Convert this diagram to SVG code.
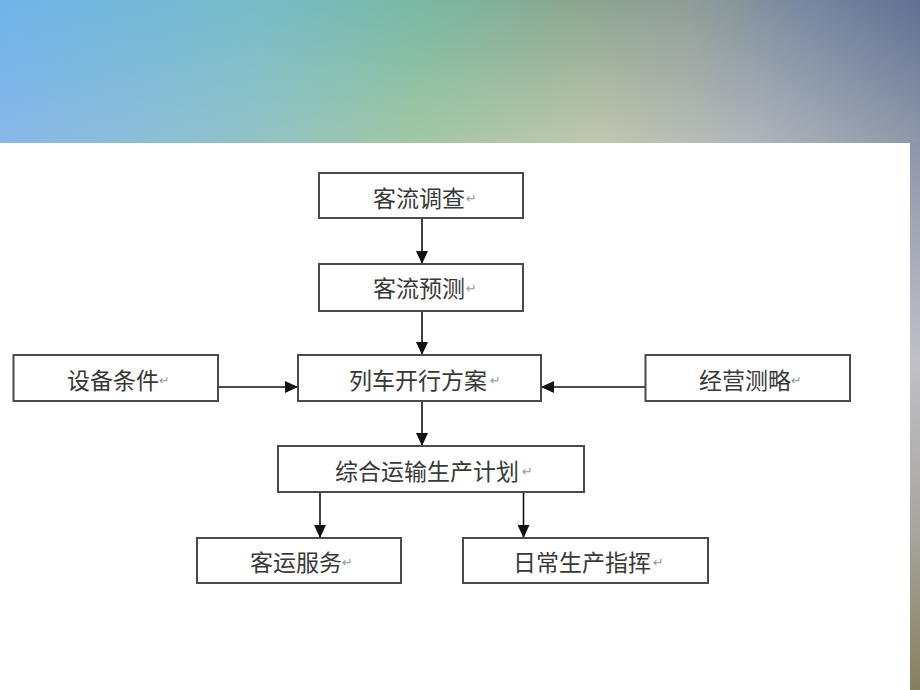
<svg xmlns="http://www.w3.org/2000/svg" width="920" height="690" viewBox="0 0 920 690">
  <defs>
    <linearGradient id="gBottom" x1="0" y1="0" x2="1" y2="0">
      <stop offset="0" stop-color="#88b8ea"/>
      <stop offset="0.25" stop-color="#90c2cc"/>
      <stop offset="0.45" stop-color="#a2c8a4"/>
      <stop offset="0.65" stop-color="#c2c8b0"/>
      <stop offset="0.82" stop-color="#b0b6bc"/>
      <stop offset="1" stop-color="#9098aa"/>
    </linearGradient>
    <linearGradient id="gTop" x1="0" y1="0" x2="1" y2="0">
      <stop offset="0" stop-color="#6fb4ea"/>
      <stop offset="0.28" stop-color="#78bcc8"/>
      <stop offset="0.45" stop-color="#78b8a4"/>
      <stop offset="0.62" stop-color="#8aa690"/>
      <stop offset="0.75" stop-color="#909c98"/>
      <stop offset="0.88" stop-color="#7686a0"/>
      <stop offset="1" stop-color="#607092"/>
    </linearGradient>
    <linearGradient id="fadeV" x1="0" y1="0" x2="0" y2="1">
      <stop offset="0" stop-color="#fff" stop-opacity="1"/>
      <stop offset="1" stop-color="#fff" stop-opacity="0"/>
    </linearGradient>
    <mask id="fadeMask">
      <rect x="0" y="0" width="920" height="143" fill="url(#fadeV)"/>
    </mask>
    <linearGradient id="gSide" x1="0" y1="0" x2="0" y2="1">
      <stop offset="0" stop-color="#8e96aa"/>
      <stop offset="0.4" stop-color="#c0c0c6"/>
      <stop offset="0.7" stop-color="#a8a6a0"/>
      <stop offset="1" stop-color="#85805f"/>
    </linearGradient>
    <marker id="arrow" markerWidth="13" markerHeight="12" refX="13" refY="6" orient="auto" markerUnits="userSpaceOnUse">
      <path d="M0,0 L13,6 L0,12 Z" fill="#111"/>
    </marker>
    <style>
      .box { fill: #ffffff; stroke: #4a4a4a; stroke-width: 2; }
      .lbl { font-family: "Noto Sans CJK SC", "Noto Sans CJK TC", sans-serif; font-size: 23px; fill: #383838; dominant-baseline: central; }
      .ret { font-family: "DejaVu Sans", "Noto Sans CJK SC", sans-serif; font-size: 13px; fill: #999999; }
      .conn { stroke: #111111; stroke-width: 1.6; fill: none; marker-end: url(#arrow); }
    </style>
  </defs>

  <rect x="0" y="0" width="920" height="690" fill="#ffffff"/>
  <rect x="0" y="0" width="920" height="143" fill="url(#gBottom)"/>
  <rect x="0" y="0" width="920" height="143" fill="url(#gTop)" mask="url(#fadeMask)"/>
  <rect x="910" y="142" width="10" height="548" fill="url(#gSide)"/>

  <g id="connectors">
    <line class="conn" x1="422" y1="218" x2="422" y2="264"/>
    <line class="conn" x1="422" y1="311" x2="422" y2="355"/>
    <line class="conn" x1="218" y1="387" x2="298" y2="387"/>
    <line class="conn" x1="645" y1="387" x2="541" y2="387"/>
    <line class="conn" x1="422" y1="401" x2="422" y2="446"/>
    <line class="conn" x1="320" y1="492" x2="320" y2="538"/>
    <line class="conn" x1="523.5" y1="492" x2="523.5" y2="538"/>
  </g>

  <g id="n1">
    <rect class="box" x="319" y="173" width="204" height="45"/>
    <text class="lbl" x="373" y="197">客流调查</text>
    <text class="ret" x="466" y="203">↵</text>
  </g>
  <g id="n2">
    <rect class="box" x="319" y="264" width="204" height="47"/>
    <text class="lbl" x="373" y="287">客流预测</text>
    <text class="ret" x="466" y="293">↵</text>
  </g>
  <g id="n3">
    <rect class="box" x="13.5" y="355" width="204.5" height="46"/>
    <text class="lbl" x="67" y="379">设备条件</text>
    <text class="ret" x="159" y="385">↵</text>
  </g>
  <g id="n4">
    <rect class="box" x="298" y="355" width="243" height="46"/>
    <text class="lbl" x="349" y="379">列车开行方案</text>
    <text class="ret" x="490" y="385">↵</text>
  </g>
  <g id="n5">
    <rect class="box" x="645.5" y="355" width="204.5" height="46"/>
    <text class="lbl" x="699" y="379">经营测略</text>
    <text class="ret" x="791" y="385">↵</text>
  </g>
  <g id="n6">
    <rect class="box" x="278" y="446" width="306" height="46"/>
    <text class="lbl" x="335" y="470">综合运输生产计划</text>
    <text class="ret" x="522" y="476">↵</text>
  </g>
  <g id="n7">
    <rect class="box" x="197" y="538" width="204" height="45"/>
    <text class="lbl" x="250" y="561">客运服务</text>
    <text class="ret" x="342" y="567">↵</text>
  </g>
  <g id="n8">
    <rect class="box" x="463" y="538" width="245" height="45"/>
    <text class="lbl" x="513" y="561">日常生产指挥</text>
    <text class="ret" x="653" y="567">↵</text>
  </g>
</svg>
